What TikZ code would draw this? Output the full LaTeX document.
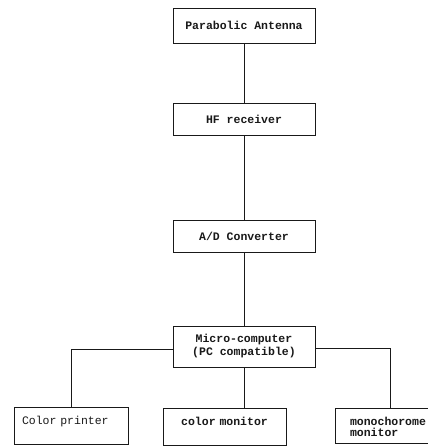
\documentclass[tikz,border=0pt]{standalone}
\usepackage{fontspec}
\setmonofont{Liberation Mono}
\usepackage{xcolor}
\usepackage{tikz}
\usetikzlibrary{positioning, calc}
\definecolor{ScanInk}{RGB}{25, 25, 25}
\definecolor{ScanPaper}{RGB}{255, 255, 255}

\tikzset{
  unitbox/.style={draw=ScanInk, line width=0.9pt, inner sep=0pt, align=center, text=ScanInk,
                  minimum width=142pt, font=\ttfamily\bfseries\fontsize{11.5}{13}\selectfont},
  outbox/.style={draw=ScanInk, line width=0.9pt, inner ysep=2pt, align=left, text=ScanInk,
                 font=\ttfamily\bfseries\fontsize{11.5}{11}\selectfont, text height=15pt},
  wire/.style={draw=ScanInk, line width=0.9pt}
}

\begin{document}
\begin{tikzpicture}[x=1pt, y=1pt]
    \fill[ScanPaper] (0,0) rectangle (428,-447);
    \useasboundingbox (0,0) rectangle (428,-447);

    % receiving chain
    \node[unitbox, minimum height=35pt] (antenna) at (244,-25.5) {Parabolic Antenna};
    \node[unitbox, minimum height=32pt] (hfrx) at (244,-119) {HF receiver};
    \node[unitbox, minimum height=32pt] (adc) at (244,-236) {A/D Converter};
    \node[unitbox, minimum height=41pt] (micro) at (244,-346.5) {Micro-computer\\(PC compatible)};

    % output devices
    \node[outbox, inner xsep=8pt, text width=98pt, text depth=18pt,
          font=\ttfamily\fontsize{11.5}{11}\selectfont] (printer) at (71,-426) {Color printer};
    \node[outbox, inner xsep=8pt, text width=107pt, text depth=18pt, align=center] (cmon) at (224.5,-426.5) {color monitor};
    \node[outbox, inner xsep=15pt, text width=80pt, text depth=16pt] (mono) at (390,-426) {monochorome\\monitor};

    % connections
    \draw[wire] (antenna) -- (hfrx);
    \draw[wire] (hfrx) -- (adc);
    \draw[wire] (adc) -- (micro);
    \draw[wire] ([yshift=-3pt]micro.west) -| (printer.north);
    \draw[wire] (micro.south) -- (micro.south |- cmon.north);
    \draw[wire] ([yshift=-2pt]micro.east) -| (mono.north);
\end{tikzpicture}
\end{document}
